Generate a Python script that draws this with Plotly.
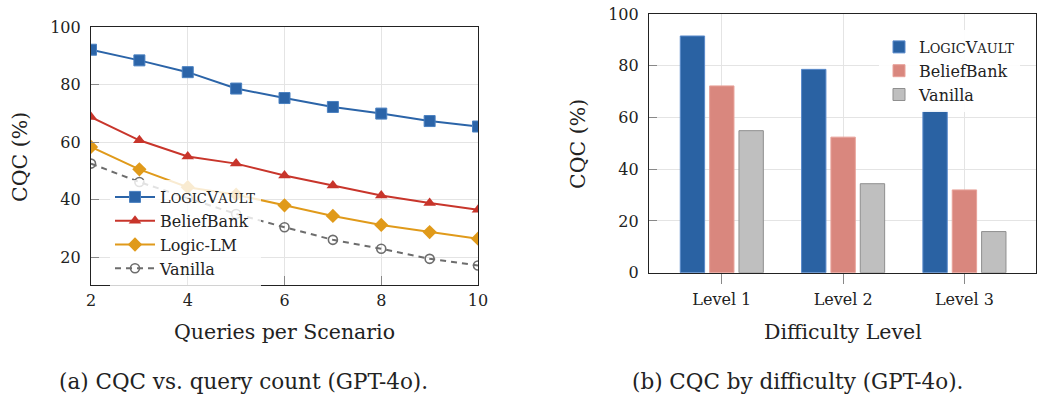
import plotly.graph_objects as go

# ---------------- data ----------------
queries = [2, 3, 4, 5, 6, 7, 8, 9, 10]
lv_line = [92.1, 88.4, 84.3, 78.6, 75.3, 72.2, 69.9, 67.3, 65.4]
bb_line = [68.7, 60.6, 55.0, 52.5, 48.4, 44.9, 41.4, 38.8, 36.5]
llm_line = [58.3, 50.5, 44.3, 41.7, 38.0, 34.3, 31.2, 28.7, 26.4]
van_line = [52.5, 46.1, 40.5, 35.0, 30.4, 26.0, 22.9, 19.4, 17.1]

levels = ["Level 1", "Level 2", "Level 3"]
lv_bar = [91.5, 78.6, 62.5]
bb_bar = [72.2, 52.4, 32.0]
van_bar = [54.9, 34.4, 15.9]

left_xticks = [2, 4, 6, 8, 10]
yticks_left = [20, 40, 60, 80, 100]
yticks_right = [0, 20, 40, 60, 80, 100]

LV_NAME = "L<span style='font-size:13px'>OGIC</span>V<span style='font-size:13px'>AULT</span>"

FONT = "DejaVu Serif"
W, H = 1037, 394

def px_x(p):
    return p / W

def px_y(p):
    return 1 - p / H

BLUE = "#2b64a8"
RED = "#c8352b"
ORANGE = "#e09a1a"
GRAY = "#6d6d6d"

fig = go.Figure()

# ---------------- left line chart ----------------
fig.add_trace(go.Scatter(x=queries, y=lv_line, name=LV_NAME, mode="lines+markers",
                         line=dict(color=BLUE, width=2),
                         marker=dict(symbol="square", size=11, color=BLUE,
                                     line=dict(color="#4a80c0", width=1)),
                         xaxis="x", yaxis="y", legend="legend"))
fig.add_trace(go.Scatter(x=queries, y=bb_line, name="BeliefBank", mode="lines+markers",
                         line=dict(color=RED, width=2),
                         marker=dict(symbol="triangle-up", size=11, color=RED),
                         xaxis="x", yaxis="y", legend="legend"))
fig.add_trace(go.Scatter(x=queries, y=llm_line, name="Logic-LM", mode="lines+markers",
                         line=dict(color=ORANGE, width=2),
                         marker=dict(symbol="diamond", size=11, color=ORANGE),
                         xaxis="x", yaxis="y", legend="legend"))
fig.add_trace(go.Scatter(x=queries, y=van_line, name="Vanilla", mode="lines+markers",
                         line=dict(color=GRAY, width=2, dash="6px,5px"),
                         marker=dict(symbol="circle-open", size=9, color=GRAY,
                                     line=dict(width=1.6, color=GRAY)),
                         xaxis="x", yaxis="y", legend="legend"))

# ---------------- right bar chart ----------------
fig.add_trace(go.Bar(x=levels, y=lv_bar, name=LV_NAME,
                     marker=dict(color="#2a62a3", line=dict(color="#5a8acb", width=1)),
                     xaxis="x2", yaxis="y2", legend="legend2"))
fig.add_trace(go.Bar(x=levels, y=bb_bar, name="BeliefBank",
                     marker=dict(color="#d9877e", line=dict(color="#e8a29a", width=1)),
                     xaxis="x2", yaxis="y2", legend="legend2"))
fig.add_trace(go.Bar(x=levels, y=van_bar, name="Vanilla",
                     marker=dict(color="#bfbfbf", line=dict(color="#8f8f8f", width=1)),
                     xaxis="x2", yaxis="y2", legend="legend2"))

tickfont = dict(family=FONT, size=16, color="#222")
axis_common = dict(showline=True, linecolor="#222", linewidth=1.2, mirror=True,
                   showgrid=True, gridcolor="#e4e4e4", gridwidth=1,
                   tickfont=tickfont, tickcolor="#888", zeroline=False,
                   automargin=False, ticklabeloverflow="allow")

fig.update_layout(
    width=W, height=H,
    margin=dict(l=0, r=0, t=0, b=0, autoexpand=False),
    paper_bgcolor="white", plot_bgcolor="white",
    font=dict(family=FONT, color="#222"),
    barmode="group", bargap=0.274, bargroupgap=0.17,
    xaxis=dict(domain=[px_x(91), px_x(478)], range=[2, 10], tickvals=left_xticks,
               ticks="inside", ticklen=9, ticklabelstandoff=1, anchor="y", **axis_common),
    yaxis=dict(domain=[px_y(285), px_y(27)], range=[10.3, 100], tickvals=yticks_left,
               ticks="inside", ticklen=8, ticklabelstandoff=6, anchor="x", **axis_common),
    xaxis2=dict(domain=[px_x(649), px_x(1036)], range=[-0.6, 2.59],
                ticks="outside", ticklen=10, ticklabelstandoff=2, anchor="y2", **axis_common),
    yaxis2=dict(domain=[px_y(272.7), px_y(14)], range=[0, 100], tickvals=yticks_right,
                ticks="inside", ticklen=8, ticklabelstandoff=6, anchor="x2", **axis_common),
    legend=dict(x=px_x(110), y=px_y(180), xanchor="left", yanchor="top",
                bgcolor="rgba(255,255,255,0.8)", borderwidth=0,
                font=dict(family=FONT, size=16, color="#222"),
                tracegroupgap=0, itemwidth=40),
    legend2=dict(x=px_x(879), y=px_y(30), xanchor="left", yanchor="top",
                 bgcolor="rgba(255,255,255,0.9)", borderwidth=0,
                 font=dict(family=FONT, size=16, color="#222"),
                 tracegroupgap=0),
    showlegend=True,
)

def ann(text, x, y, size, angle=0):
    fig.add_annotation(text=text, x=px_x(x), y=px_y(y), xref="paper", yref="paper",
                       xanchor="center", yanchor="middle", textangle=angle,
                       showarrow=False, font=dict(family=FONT, size=size, color="#222"))

ann("CQC (%)", 20, 157, 20.5, -90)
ann("CQC (%)", 578, 144, 20.5, -90)
ann("Queries per Scenario", 284, 332, 20.5)
ann("Difficulty Level", 843, 332, 20.5)
ann("(a) CQC vs. query count (GPT-4o).", 243, 381, 21.5)
ann("(b) CQC by difficulty (GPT-4o).", 797, 381, 21.5)

# remove the default 8px page margin so the figure fills the window exactly
fig.write_html("out.html",
               config={"displayModeBar": False},
               post_script="document.body.style.margin='0';document.body.style.overflow='hidden';")
